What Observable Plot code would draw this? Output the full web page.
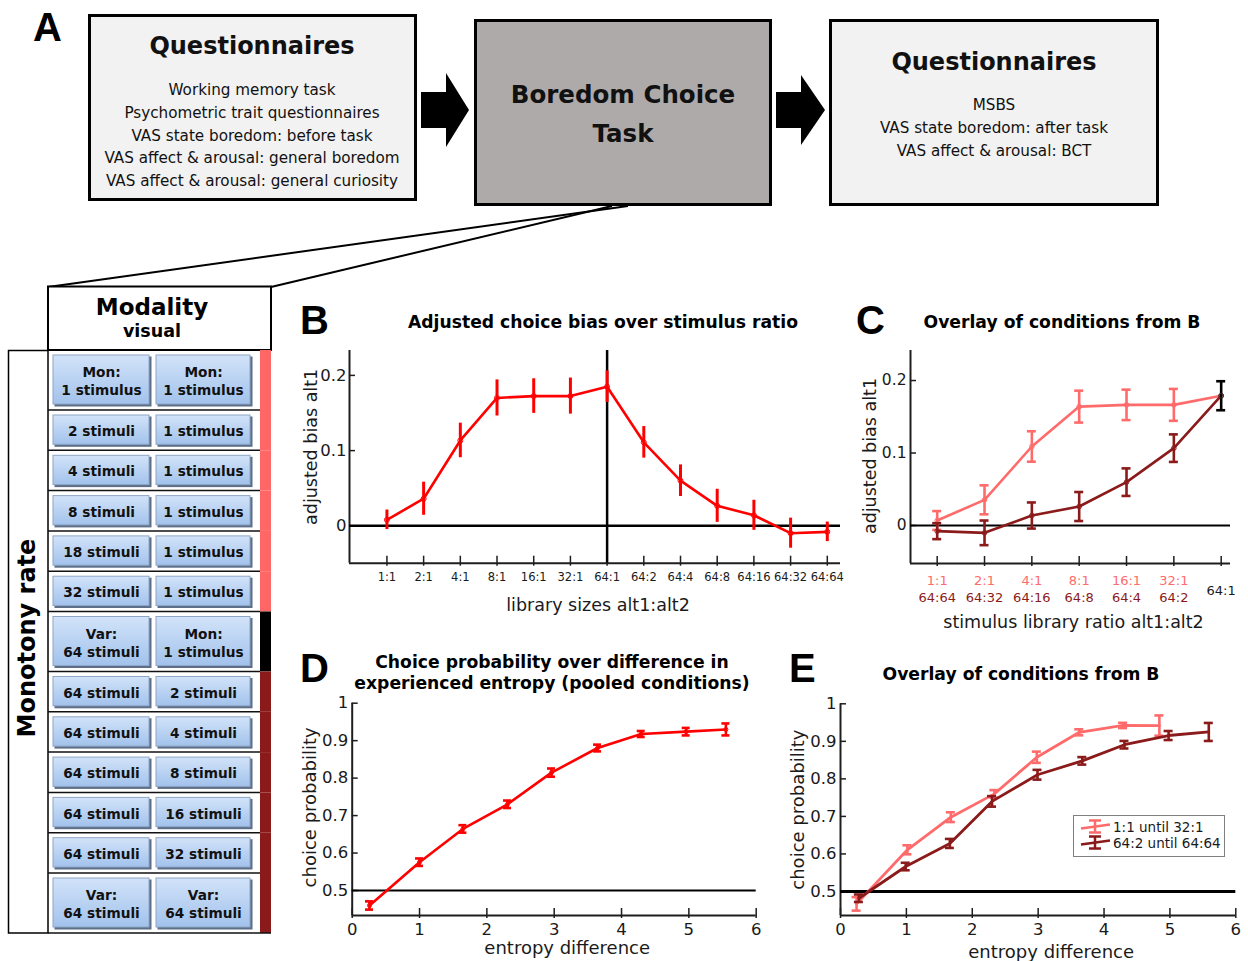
<!DOCTYPE html>
<html><head><meta charset="utf-8">
<script src="https://cdn.jsdelivr.net/npm/d3@7"></script>
<script src="https://cdn.jsdelivr.net/npm/@observablehq/plot@0.6"></script>
<style>
html,body{margin:0;padding:0;background:#fff;}
#page{position:relative;width:1248px;height:961px;overflow:hidden;}
#page > svg{position:absolute;}
</style></head><body><div id="page"></div>
<script>
// ---------------- DATA ----------------
// Panel A flow chart texts
const boxLeftTitle = "Questionnaires";
const boxLeftItems = ["Working memory task", "Psychometric trait questionnaires", "VAS state boredom: before task", "VAS affect & arousal: general boredom", "VAS affect & arousal: general curiosity"];
const boxMidLines = ["Boredom Choice", "Task"];
const boxRightTitle = "Questionnaires";
const boxRightItems = ["MSBS", "VAS state boredom: after task", "VAS affect & arousal: BCT"];
// Condition table
const tableLeft = ["Mon:|1 stimulus", "2 stimuli", "4 stimuli", "8 stimuli", "18 stimuli", "32 stimuli", "Var:|64 stimuli", "64 stimuli", "64 stimuli", "64 stimuli", "64 stimuli", "64 stimuli", "Var:|64 stimuli"];
const tableRight = ["Mon:|1 stimulus", "1 stimulus", "1 stimulus", "1 stimulus", "1 stimulus", "1 stimulus", "Mon:|1 stimulus", "2 stimuli", "4 stimuli", "8 stimuli", "16 stimuli", "32 stimuli", "Var:|64 stimuli"];
const tableGroup = ["a", "a", "a", "a", "a", "a", "peak", "b", "b", "b", "b", "b", "b"];

// Panel B
const bLabels = ["1:1", "2:1", "4:1", "8:1", "16:1", "32:1", "64:1", "64:2", "64:4", "64:8", "64:16", "64:32", "64:64"];
const bBias = [0.008, 0.036, 0.1135, 0.170, 0.1725, 0.1725, 0.185, 0.111, 0.060, 0.0266, 0.014, -0.0098, -0.008];
const bErr = [0.013, 0.022, 0.023, 0.024, 0.023, 0.024, 0.021, 0.021, 0.021, 0.022, 0.020, 0.020, 0.013];

// Panel C
const cTopLabels = ["1:1", "2:1", "4:1", "8:1", "16:1", "32:1"];
const cBottomLabels = ["64:64", "64:32", "64:16", "64:8", "64:4", "64:2"];
const cPeakLabel = "64:1";
const cPink = [0.0069, 0.0354, 0.109, 0.164, 0.1664, 0.1664, 0.179];
const cPinkErr = [0.013, 0.020, 0.021, 0.022, 0.021, 0.022];
const cDark = [-0.0078, -0.0101, 0.0138, 0.0262, 0.0598, 0.1067, 0.179];
const cDarkErr = [0.011, 0.017, 0.018, 0.020, 0.019, 0.019];
const cPeak = 0.179, cPeakErr = 0.02;

// Panel D
const dEntropy = [0.257, 1.0, 1.644, 2.307, 2.96, 3.644, 4.292, 4.96, 5.55];
const dProb = [0.46, 0.5756, 0.6644, 0.7302, 0.8147, 0.8804, 0.9178, 0.924, 0.930];
const dErr = [0.011, 0.010, 0.010, 0.010, 0.011, 0.009, 0.008, 0.010, 0.016];

// Panel E
const ePinkEntropy = [0.244, 1.015, 1.675, 2.335, 2.98, 3.624, 4.289, 4.84];
const ePinkProb = [0.467, 0.611, 0.698, 0.760, 0.8576, 0.924, 0.9423, 0.942];
const ePinkErr = [0.018, 0.012, 0.013, 0.010, 0.015, 0.008, 0.007, 0.027];
const eDarkEntropy = [0.279, 0.99, 1.66, 2.30, 2.99, 3.67, 4.31, 4.98, 5.59];
const eDarkProb = [0.482, 0.5665, 0.628, 0.740, 0.811, 0.848, 0.891, 0.9155, 0.925];
const eDarkErr = [0.010, 0.010, 0.012, 0.014, 0.013, 0.010, 0.010, 0.012, 0.024];
const eLegend = ["1:1 until 32:1", "64:2 until 64:64"];

// ---------------- STYLE ----------------
const FONT = "DejaVu Sans";
const RED = "#ff0000", PINK = "#ff6b6b", DARK = "#8b1a1a", AXIS = "#1e1e1e";

const page = document.getElementById("page");
const stat = d3.select(page).append("svg").attr("width", 1248).attr("height", 961)
  .style("left", "0px").style("top", "0px");

function txt(x, y, s, {size = 15, weight = "normal", anchor = "middle", fill = "#111", family = FONT, rotate = 0, baseline = "central"} = {}) {
  const el = stat.append("text").attr("x", x).attr("y", y).attr("text-anchor", anchor)
    .attr("dominant-baseline", baseline).attr("font-family", family).attr("font-size", size)
    .attr("font-weight", weight).attr("fill", fill).text(s);
  if (rotate) el.attr("transform", `rotate(${rotate},${x},${y})`);
  return el;
}

// defs
const defs = stat.append("defs");
const g1 = defs.append("linearGradient").attr("id", "btn").attr("x1", 0).attr("y1", 0).attr("x2", 0).attr("y2", 1);
g1.append("stop").attr("offset", "0%").attr("stop-color", "#d2e3f9");
g1.append("stop").attr("offset", "100%").attr("stop-color", "#a2c2ec");

// ---------------- PANEL A: flow chart ----------------
txt(33, 40.5, "A", {size: 40, weight: "bold", anchor: "start", family: "Liberation Sans", baseline: "auto", fill: "#000"});
stat.append("rect").attr("x", 89.5).attr("y", 15.5).attr("width", 326).attr("height", 184).attr("fill", "#f2f2f2").attr("stroke", "#000").attr("stroke-width", 3);
stat.append("rect").attr("x", 475.5).attr("y", 20.5).attr("width", 295).attr("height", 184).attr("fill", "#aeaaaa").attr("stroke", "#000").attr("stroke-width", 3);
stat.append("rect").attr("x", 830.5).attr("y", 20.5).attr("width", 327).attr("height", 184).attr("fill", "#f2f2f2").attr("stroke", "#000").attr("stroke-width", 3);
stat.append("polygon").attr("points", "421,92 446,92 446,73 469,110 446,147 446,128 421,128").attr("fill", "#000");
stat.append("polygon").attr("points", "776,92 801,92 801,75 825,110 801,145 801,128 776,128").attr("fill", "#000");

txt(252, 46, boxLeftTitle, {size: 24, weight: "bold"});
boxLeftItems.forEach((s, i) => txt(252, 90 + i * 22.8, s, {size: 15.2}));
boxMidLines.forEach((s, i) => txt(623, 94 + i * 39, s, {size: 24.5, weight: "bold"}));
txt(994, 62, boxRightTitle, {size: 24, weight: "bold"});
boxRightItems.forEach((s, i) => txt(994, 105 + i * 23, s, {size: 15.2}));

// connectors
stat.append("line").attr("x1", 628).attr("y1", 206).attr("x2", 48).attr("y2", 287).attr("stroke", "#000").attr("stroke-width", 2);
stat.append("line").attr("x1", 612).attr("y1", 206).attr("x2", 271).attr("y2", 287).attr("stroke", "#000").attr("stroke-width", 2);

// ---------------- condition table ----------------
stat.append("rect").attr("x", 48).attr("y", 286.5).attr("width", 223).attr("height", 63.5).attr("fill", "#fff").attr("stroke", "#000").attr("stroke-width", 2);
txt(152, 307, "Modality", {size: 23, weight: "bold", fill: "#000"});
txt(152, 331, "visual", {size: 17.5, weight: "bold", fill: "#000"});
stat.append("rect").attr("x", 8.5).attr("y", 350.5).attr("width", 39.5).attr("height", 582.5).attr("fill", "#fff").attr("stroke", "#000").attr("stroke-width", 1.5);
txt(27, 638, "Monotony rate", {size: 24, weight: "bold", fill: "#000", rotate: -90});

let rowY = 350;
const groupColor = {a: "#ff6666", peak: "#000000", b: "#8b1a1a"};
tableLeft.forEach((left, i) => {
  const dbl = left.includes("|");
  const h = dbl ? 60 : 40.3;
  const y0 = rowY, y1 = rowY + h;
  stat.append("rect").attr("x", 260).attr("y", y0).attr("width", 11).attr("height", h).attr("fill", groupColor[tableGroup[i]]);
  [[left, 53, 97], [tableRight[i], 156, 95]].forEach(([label, bx, bw]) => {
    const by = y0 + 5, bh = h - 10;
    stat.append("rect").attr("x", bx + 1.5).attr("y", by + 1.5).attr("width", bw).attr("height", bh).attr("fill", "#5d6f88");
    stat.append("rect").attr("x", bx).attr("y", by).attr("width", bw - 1).attr("height", bh - 1).attr("fill", "url(#btn)").attr("stroke", "#8ea6c6").attr("stroke-width", 1);
    const parts = label.split("|");
    const cx = bx + bw / 2, cy = y0 + h / 2 + 1;
    parts.forEach((p, k) => txt(cx, cy + (parts.length === 2 ? (k === 0 ? -9 : 9) : 0), p, {size: 13.7, weight: "bold", fill: "#111"}));
  });
  if (i < tableLeft.length - 1)
    stat.append("line").attr("x1", 48).attr("x2", 260).attr("y1", y1).attr("y2", y1).attr("stroke", "#111").attr("stroke-width", 1.5);
  rowY = y1;
});
stat.append("line").attr("x1", 48).attr("x2", 271).attr("y1", rowY).attr("y2", rowY).attr("stroke", "#111").attr("stroke-width", 1.5);

// ---------------- titles & letters ----------------
const L = {size: 40, weight: "bold", anchor: "start", family: "Liberation Sans", baseline: "auto", fill: "#000"};
txt(300, 333.5, "B", L);
txt(856, 334, "C", L);
txt(300, 682, "D", L);
txt(789, 682, "E", L);
const T = {size: 17.2, weight: "bold", fill: "#000"};
txt(603, 322, "Adjusted choice bias over stimulus ratio", T);
txt(1062, 322, "Overlay of conditions from B", T);
txt(552, 662, "Choice probability over difference in", T);
txt(552, 683, "experienced entropy (pooled conditions)", T);
txt(1021, 674, "Overlay of conditions from B", T);

// ---------------- helpers for plots ----------------
function place(svg, left, top) {
  svg.style.position = "absolute"; svg.style.left = left + "px"; svg.style.top = top + "px";
  svg.style.background = "transparent"; svg.style.overflow = "visible";
  page.appendChild(svg);
}
function baseOpts(W, H, ML, MR, MT, MB, xDom, yDom) {
  return {width: W, height: H, marginLeft: ML, marginRight: MR, marginTop: MT, marginBottom: MB,
    x: {type: "linear", domain: xDom, axis: null}, y: {type: "linear", domain: yDom, axis: null},
    style: {fontFamily: FONT, fontSize: "16px", background: "transparent", color: "#1a1a1a", overflow: "visible"}};
}
function axisMarks(xDom, yDom, pxX, pxY, xTicks, yTicks) {
  return [
    Plot.ruleX([xDom[0]], {stroke: AXIS, strokeWidth: 2}),
    Plot.ruleY([yDom[0]], {stroke: AXIS, strokeWidth: 2}),
    Plot.ruleY(yTicks, {y: d => d, x1: xDom[0], x2: xDom[0] + 6 / pxX, stroke: AXIS, strokeWidth: 1.5}),
    Plot.ruleX(xTicks, {x: d => d, y1: yDom[0] - 3 / pxY, y2: yDom[0] + 7 / pxY, stroke: AXIS, strokeWidth: 1.5})
  ];
}
function errMarks(data, color, capPx, pxX, sw) {
  const cw = capPx / pxX;
  const m = [Plot.ruleX(data, {x: "x", y1: d => d.y - d.e, y2: d => d.y + d.e, stroke: color, strokeWidth: sw})];
  if (capPx > 0) {
    m.push(Plot.ruleY(data, {y: d => d.y - d.e, x1: d => d.x - cw, x2: d => d.x + cw, stroke: color, strokeWidth: sw}));
    m.push(Plot.ruleY(data, {y: d => d.y + d.e, x1: d => d.x - cw, x2: d => d.x + cw, stroke: color, strokeWidth: sw}));
  }
  return m;
}
function yLabel(s, dx, dy, size) {
  return Plot.text([s], {frameAnchor: "left", dx, dy, rotate: -90, text: d => d, textAnchor: "middle", lineAnchor: "middle", fontSize: size, fill: "#1a1a1a"});
}
function xLabel(s, dx, dy, size) {
  return Plot.text([s], {frameAnchor: "bottom", dx, dy, text: d => d, textAnchor: "middle", lineAnchor: "middle", fontSize: size, fill: "#1a1a1a"});
}
const fmtP = d => (d === 0 ? "0" : d === 1 ? "1" : d.toFixed(1));

// ---------------- PANEL B ----------------
{
  const W = 560, H = 290, ML = 59, MR = 10, MT = 10, MB = 67.3;
  const xDom = [-1.02, 12.36], yDom = [-0.0497, 0.2331];
  const pxX = (W - ML - MR) / (xDom[1] - xDom[0]), pxY = (H - MT - MB) / (yDom[1] - yDom[0]);
  const data = bLabels.map((l, i) => ({x: i, y: bBias[i], e: bErr[i], label: l}));
  const yTicks = [0, 0.1, 0.2];
  const svg = Plot.plot({...baseOpts(W, H, ML, MR, MT, MB, xDom, yDom), marks: [
    ...axisMarks(xDom, yDom, pxX, pxY, data.map(d => d.x), yTicks),
    Plot.ruleY([0], {stroke: "#000", strokeWidth: 2.5}),
    Plot.ruleX([6], {stroke: "#000", strokeWidth: 2.5}),
    ...errMarks(data, RED, 0, pxX, 3),
    Plot.line(data, {x: "x", y: "y", stroke: RED, strokeWidth: 2.6}),
    Plot.dot(data, {x: "x", y: "y", r: 2.5, stroke: RED, fill: "none", strokeWidth: 1}),
    Plot.text(yTicks, {x: xDom[0], y: d => d, dx: -3, textAnchor: "end", text: fmtP, fontSize: 16.5, fill: "#1a1a1a"}),
    Plot.text(data, {x: "x", y: yDom[0], dy: 14, text: "label", fontSize: 11.5, fill: "#1a1a1a"}),
    yLabel("adjusted bias alt1", -38, -10, 17.5),
    xLabel("library sizes alt1:alt2", 3, 42, 17.5)
  ]});
  place(svg, 290, 340);
}

// ---------------- PANEL C ----------------
{
  const W = 398, H = 300, ML = 60, MR = 18, MT = 10, MB = 77;
  const xDom = [-0.564, 6.197], yDom = [-0.0524, 0.2414];
  const pxX = (W - ML - MR) / (xDom[1] - xDom[0]), pxY = (H - MT - MB) / (yDom[1] - yDom[0]);
  const pink = cPink.map((v, i) => ({x: i, y: v, e: cPinkErr[i]}));
  const dark = cDark.map((v, i) => ({x: i, y: v, e: cDarkErr[i]}));
  const peak = [{x: 6, y: cPeak, e: cPeakErr}];
  const yTicks = [0, 0.1, 0.2];
  const idx = cTopLabels.map((_, i) => i);
  const svg = Plot.plot({...baseOpts(W, H, ML, MR, MT, MB, xDom, yDom), marks: [
    ...axisMarks(xDom, yDom, pxX, pxY, [0, 1, 2, 3, 4, 5, 6], yTicks),
    Plot.ruleY([0], {stroke: "#000", strokeWidth: 2}),
    ...errMarks(pink.slice(0, 6), PINK, 4.5, pxX, 2.6),
    Plot.line(pink, {x: "x", y: "y", stroke: PINK, strokeWidth: 2.6}),
    Plot.dot(pink, {x: "x", y: "y", r: 2.3, stroke: PINK, fill: "none", strokeWidth: 1}),
    ...errMarks(dark.slice(0, 6), DARK, 4.5, pxX, 2.6),
    Plot.line(dark, {x: "x", y: "y", stroke: DARK, strokeWidth: 2.6}),
    Plot.dot(dark, {x: "x", y: "y", r: 2.3, stroke: DARK, fill: "none", strokeWidth: 1}),
    ...errMarks(peak, "#000", 4.5, pxX, 2.6),
    Plot.dot(peak, {x: "x", y: "y", r: 2.3, stroke: "#333", fill: "none", strokeWidth: 1}),
    Plot.text(yTicks, {x: xDom[0], y: d => d, dx: -4, textAnchor: "end", text: fmtP, fontSize: 15.5, fill: "#1a1a1a"}),
    Plot.text(idx, {x: d => d, y: yDom[0], dy: 17, text: d => cTopLabels[d], fontSize: 13, fill: PINK}),
    Plot.text(idx, {x: d => d, y: yDom[0], dy: 34, text: d => cBottomLabels[d], fontSize: 13, fill: DARK}),
    Plot.text([cPeakLabel], {x: 6, y: yDom[0], dy: 27, text: d => d, fontSize: 13, fill: "#1a1a1a"}),
    yLabel("adjusted bias alt1", -40, -1, 17.5),
    xLabel("stimulus library ratio alt1:alt2", 3, 58.5, 17.5)
  ]});
  place(svg, 850, 340);
}

// ---------------- PANEL D ----------------
{
  const W = 480, H = 271, ML = 61.7, MR = 14.3, MT = 12.7, MB = 46;
  const xDom = [0, 6], yDom = [0.4333, 1.0];
  const pxX = (W - ML - MR) / (xDom[1] - xDom[0]), pxY = (H - MT - MB) / (yDom[1] - yDom[0]);
  const data = dEntropy.map((x, i) => ({x, y: dProb[i], e: dErr[i]}));
  const yTicks = [0.5, 0.6, 0.7, 0.8, 0.9, 1];
  const xTicks = [0, 1, 2, 3, 4, 5, 6];
  const svg = Plot.plot({...baseOpts(W, H, ML, MR, MT, MB, xDom, yDom), marks: [
    ...axisMarks(xDom, yDom, pxX, pxY, xTicks, yTicks),
    Plot.ruleY([0.5], {x1: 0, x2: 6, stroke: "#000", strokeWidth: 2.2}),
    ...errMarks(data, RED, 4, pxX, 2.6),
    Plot.line(data, {x: "x", y: "y", stroke: RED, strokeWidth: 2.6}),
    Plot.dot(data, {x: "x", y: "y", r: 2, stroke: RED, fill: "none", strokeWidth: 1}),
    Plot.text(yTicks, {x: 0, y: d => d, dx: -4, textAnchor: "end", text: fmtP, fontSize: 16.5, fill: "#1a1a1a"}),
    Plot.text(xTicks, {x: d => d, y: yDom[0], dy: 14, text: d => String(d), fontSize: 16.5, fill: "#1a1a1a"}),
    yLabel("choice probability", -42, -2, 18),
    xLabel("entropy difference", 13, 33, 18)
  ]});
  place(svg, 290, 690);
}

// ---------------- PANEL E ----------------
{
  const W = 468, H = 271, ML = 60, MR = 12.7, MT = 13.3, MB = 46;
  const xDom = [0, 6], yDom = [0.436, 1.0];
  const pxX = (W - ML - MR) / (xDom[1] - xDom[0]), pxY = (H - MT - MB) / (yDom[1] - yDom[0]);
  const pink = ePinkEntropy.map((x, i) => ({x, y: ePinkProb[i], e: ePinkErr[i]}));
  const dark = eDarkEntropy.map((x, i) => ({x, y: eDarkProb[i], e: eDarkErr[i]}));
  const yTicks = [0.5, 0.6, 0.7, 0.8, 0.9, 1];
  const xTicks = [0, 1, 2, 3, 4, 5, 6];
  const svg = Plot.plot({...baseOpts(W, H, ML, MR, MT, MB, xDom, yDom), marks: [
    ...axisMarks(xDom, yDom, pxX, pxY, xTicks, yTicks),
    Plot.ruleY([0.5], {x1: 0, x2: 6, stroke: "#000", strokeWidth: 3}),
    ...errMarks(pink, PINK, 4.5, pxX, 2.6),
    Plot.line(pink, {x: "x", y: "y", stroke: PINK, strokeWidth: 2.8}),
    ...errMarks(dark, DARK, 4.5, pxX, 2.6),
    Plot.line(dark, {x: "x", y: "y", stroke: DARK, strokeWidth: 2.8}),
    Plot.text(yTicks, {x: 0, y: d => d, dx: -4, textAnchor: "end", text: fmtP, fontSize: 16.5, fill: "#1a1a1a"}),
    Plot.text(xTicks, {x: d => d, y: yDom[0], dy: 14, text: d => String(d), fontSize: 16.5, fill: "#1a1a1a"}),
    yLabel("choice probability", -42.5, 0, 18),
    xLabel("entropy difference", 13, 36.5, 18)
  ]});
  place(svg, 780, 690);
}

// legend for panel E (static overlay on top)
{
  const lg = d3.select(page).append("svg").attr("width", 1248).attr("height", 961).style("left", "0px").style("top", "0px").style("pointer-events", "none");
  lg.append("rect").attr("x", 1073.5).attr("y", 815.5).attr("width", 151).attr("height", 41).attr("fill", "#fff").attr("stroke", "#7f7f7f").attr("stroke-width", 1);
  [[PINK, 826.5], [DARK, 842.5]].forEach(([c, y], i) => {
    lg.append("line").attr("x1", 1081).attr("x2", 1110).attr("y1", y + 2).attr("y2", y - 2).attr("stroke", c).attr("stroke-width", 2.5);
    lg.append("line").attr("x1", 1095).attr("x2", 1095).attr("y1", y - 6).attr("y2", y + 6).attr("stroke", c).attr("stroke-width", 2.5);
    lg.append("line").attr("x1", 1089).attr("x2", 1101).attr("y1", y - 6).attr("y2", y - 6).attr("stroke", c).attr("stroke-width", 2.5);
    lg.append("line").attr("x1", 1089).attr("x2", 1101).attr("y1", y + 6).attr("y2", y + 6).attr("stroke", c).attr("stroke-width", 2.5);
    lg.append("text").attr("x", 1113).attr("y", y).attr("dominant-baseline", "central").attr("font-family", FONT).attr("font-size", 13.5).attr("fill", "#1a1a1a").text(eLegend[i]);
  });
}
</script>
</body></html>
